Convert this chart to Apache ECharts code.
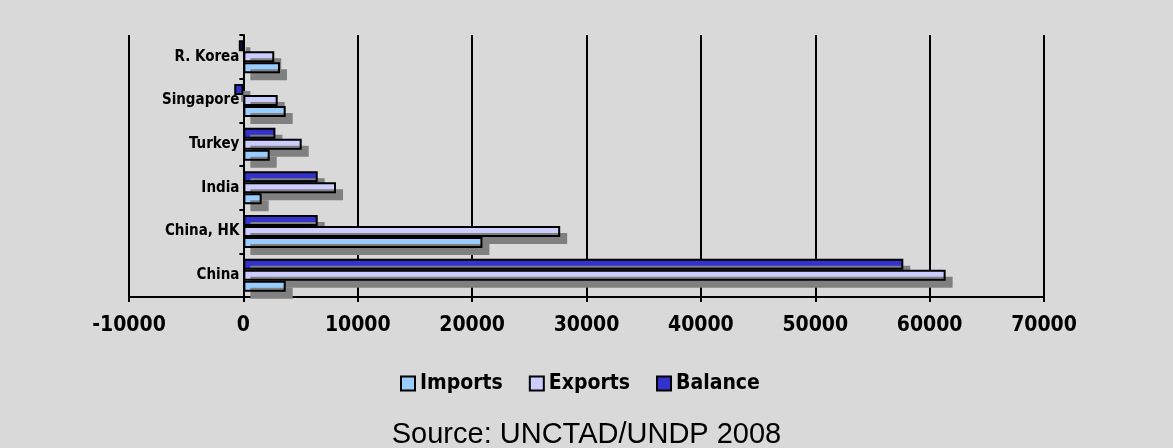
<!DOCTYPE html>
<html>
<head>
<meta charset="UTF-8">
<title>Trade balance</title>
<style>
  html, body { margin: 0; padding: 0; background: #D9D9D9; }
  #main { width: 1173px; height: 448px; }
</style>
</head>
<body>
<div id="main"></div>
<script src="https://cdn.jsdelivr.net/npm/echarts@6/dist/echarts.min.js"></script>
<script>
// categories, bottom to top
var countries = ['China', 'China, HK', 'India', 'Turkey', 'Singapore', 'R. Korea'];
var imports = [3700, 20900, 1600, 2300, 3700, 3200];
var exports = [61400, 27700, 8100, 5100, 3000, 2700];
var balance = [57700, 6500, 6500, 2800, -800, -400];
var xTicks = [-10000, 0, 10000, 20000, 30000, 40000, 50000, 60000, 70000];

var boldFont = '"DejaVu Sans Condensed", "DejaVu Sans", sans-serif';
var plotLeft = 129, plotRight = 129;
var plotW = 1173 - plotLeft - plotRight;
// shift the category axis over to the zero line
var zeroShift = (0 - xTicks[0]) / (xTicks[xTicks.length - 1] - xTicks[0]) * plotW;

function barStyle(color) {
  return {
    color: color,
    borderColor: '#000',
    borderWidth: 2,
    shadowColor: '#808080',
    shadowBlur: 0,
    shadowOffsetX: 7,
    shadowOffsetY: 7
  };
}

var myChart = echarts.init(document.getElementById('main'));
myChart.setOption({
  backgroundColor: '#D9D9D9',
  animation: false,
  title: {
    text: 'Source: UNCTAD/UNDP 2008',
    left: 'center',
    top: 415,
    textStyle: { fontFamily: '"Liberation Sans", Arial, sans-serif', fontWeight: 'normal', fontSize: 29, color: '#000' }
  },
  legend: {
    data: ['Imports', 'Exports', 'Balance'],
    left: 400,
    top: 373,
    padding: 0,
    itemWidth: 14,
    itemHeight: 14,
    itemGap: 26,
    icon: 'rect',
    itemStyle: { borderColor: '#000', borderWidth: 2, shadowBlur: 0, shadowOffsetX: 0, shadowOffsetY: 0, shadowColor: 'rgba(0,0,0,0)' },
    textStyle: { fontFamily: boldFont, fontWeight: 'bold', fontSize: 21, color: '#000' }
  },
  grid: { left: plotLeft, right: plotRight, top: 35, bottom: 151, containLabel: false },
  xAxis: {
    type: 'value',
    min: xTicks[0],
    max: xTicks[xTicks.length - 1],
    interval: 10000,
    axisLine: { show: true, lineStyle: { color: '#000', width: 2 } },
    axisTick: { show: true, length: 5, lineStyle: { color: '#000', width: 2 } },
    splitLine: { show: true, lineStyle: { color: '#000', width: 2 } },
    axisLabel: {
      margin: 18, fontFamily: boldFont, fontWeight: 'bold', fontSize: 21, color: '#000',
      formatter: function (v) { return String(v); }
    }
  },
  yAxis: {
    type: 'category',
    data: countries,
    offset: -zeroShift,
    axisLine: { show: true, onZero: false, lineStyle: { color: '#000', width: 2 } },
    axisTick: { show: true, length: 4, lineStyle: { color: '#000', width: 2 } },
    axisLabel: { margin: 4, fontFamily: boldFont, fontWeight: 'bold', fontSize: 15, color: '#000' }
  },
  series: [
    { name: 'Balance', type: 'bar', barWidth: 11, barGap: '0%', itemStyle: barStyle('#3333CC'), data: balance },
    { name: 'Exports', type: 'bar', barWidth: 11, barGap: '0%', itemStyle: barStyle('#CCCCFF'), data: exports },
    { name: 'Imports', type: 'bar', barWidth: 11, barGap: '0%', itemStyle: barStyle('#99CCFF'), data: imports }
  ]
});
</script>
</body>
</html>
